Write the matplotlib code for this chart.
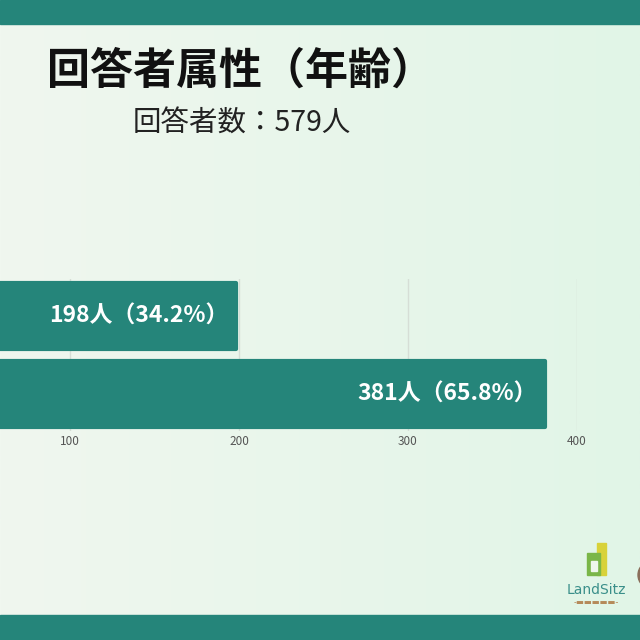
import matplotlib.pyplot as plt
import numpy as np
from matplotlib.patches import Rectangle, Circle
from matplotlib.colors import LinearSegmentedColormap

plt.rcParams['font.family'] = ['Noto Sans CJK JP', 'DejaVu Sans']

# データ
categories = ['A', 'B']          # 年齢区分（左側は画像外で見えない）
counts = [198, 381]
percents = [34.2, 65.8]
total = 579
xticks = [100, 200, 300, 400]

teal = '#25857a'

fig = plt.figure(figsize=(6.4, 6.4), dpi=100)

# 背景のグラデーション
bg = fig.add_axes([0, 0, 1, 1], zorder=-10)
grad = np.linspace(0, 1, 256).reshape(1, -1)
cmap = LinearSegmentedColormap.from_list('bg', ['#f0f7ef', '#e1f5e7'])
bg.imshow(grad, aspect='auto', cmap=cmap, extent=[0, 1, 0, 1])
bg.set_xlim(0, 1)
bg.set_ylim(0, 1)
bg.axis('off')

# 上下の帯
fig.patches.append(Rectangle((0, 1 - 24 / 640), 1, 24 / 640, transform=fig.transFigure,
                             color=teal, zorder=-5))
fig.patches.append(Rectangle((0, 0), 1, 25 / 640, transform=fig.transFigure,
                             color=teal, zorder=-5))

# タイトル
fig.text(47 / 640, 1 - 71 / 640, '回答者属性（年齢）', fontsize=31, fontweight='bold',
         color='#111111', va='center', ha='left')
fig.text(133 / 640, 1 - 124 / 640, f'回答者数：{total}人', fontsize=20.5,
         color='#222222', va='center', ha='left')

# 棒グラフ（左端は画像外にはみ出す）
x0 = 70 - 169  # 0 の位置(px)
ax = fig.add_axes([x0 / 640, 1 - 431 / 640, 676 / 640, 152 / 640])
ax.patch.set_alpha(0)
y = np.arange(len(categories))
ax.barh(y, counts, height=0.84, color=teal, edgecolor=teal, linewidth=3,
        joinstyle='round', zorder=3)
for yi, c, p in zip(y, counts, percents):
    ax.text(c - 4.5, yi, f'{c}人（{p}%）', color='white', fontsize=16.5,
            fontweight='bold', ha='right', va='center', zorder=4)
ax.set_xlim(0, 400)
ax.set_ylim(1.47, -0.47)
ax.set_xticks(xticks)
ax.set_xticklabels([str(t) for t in xticks], fontsize=8.5, color='#555555')
ax.tick_params(axis='x', length=0, pad=3)
ax.set_yticks([])
ax.grid(axis='x', color='#d6ded6', linewidth=1, zorder=0)
for s in ax.spines.values():
    s.set_visible(False)

# ロゴ
fig.patches.append(Rectangle((597 / 640, 1 - 575 / 640), 9 / 640, 32 / 640,
                             transform=fig.transFigure, color='#d8d23a', zorder=2))
fig.patches.append(Rectangle((587 / 640, 1 - 575 / 640), 13 / 640, 22 / 640,
                             transform=fig.transFigure, color='#7ab648', zorder=3))
fig.patches.append(Rectangle((591 / 640, 1 - 571 / 640), 6 / 640, 10 / 640,
                             transform=fig.transFigure, color='#eef7ec', zorder=4))
fig.patches.append(Circle((652 / 640, 1 - 575 / 640), 14 / 640,
                          transform=fig.transFigure, color='#8a6e5a', zorder=2))
fig.text(596 / 640, 1 - 590 / 640, 'LandSitz', fontsize=10, color='#3a8f8a',
         ha='center', va='center', family='DejaVu Sans')
fig.text(596 / 640, 1 - 603 / 640, '-▬▬▬▬▬-', fontsize=6, color='#b58a5a',
         ha='center', va='center', family='DejaVu Sans')

fig.savefig('out.png', dpi=100)
